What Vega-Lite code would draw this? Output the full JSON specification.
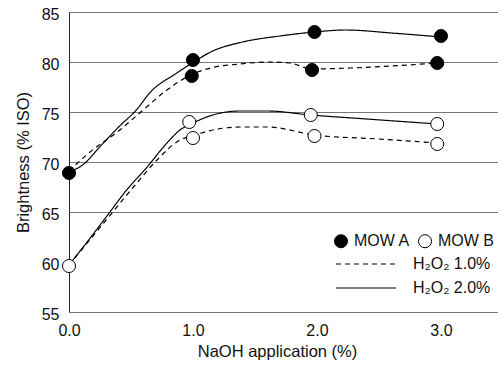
{
  "$schema": "https://vega.github.io/schema/vega-lite/v6.json",
  "width": 429,
  "height": 300,
  "autosize": {"type": "none"},
  "padding": {"left": 69, "top": 12, "right": 0, "bottom": 54},
  "config": {
    "font": "Liberation Sans",
    "view": {"stroke": null},
    "axis": {
      "labelFont": "Liberation Sans",
      "titleFont": "Liberation Sans",
      "labelFontSize": 16,
      "titleFontSize": 16.5,
      "titleFontWeight": "normal",
      "labelColor": "#111",
      "titleColor": "#111",
      "ticks": false
    },
    "legend": {"labelFont": "Liberation Sans", "labelFontSize": 16, "labelColor": "#111", "padding": 0}
  },
  "datasets": {
    "points": [
      {"MOW": "MOW A", "naoh": 0.0, "brightness": 68.9},
      {"MOW": "MOW A", "naoh": 1.0, "brightness": 80.2},
      {"MOW": "MOW A", "naoh": 0.99, "brightness": 78.6},
      {"MOW": "MOW A", "naoh": 1.98, "brightness": 83.0},
      {"MOW": "MOW A", "naoh": 1.96, "brightness": 79.2},
      {"MOW": "MOW A", "naoh": 3.0, "brightness": 82.6},
      {"MOW": "MOW A", "naoh": 2.97, "brightness": 79.9},
      {"MOW": "MOW B", "naoh": 0.0, "brightness": 59.6},
      {"MOW": "MOW B", "naoh": 0.97, "brightness": 74.0},
      {"MOW": "MOW B", "naoh": 1.0, "brightness": 72.4},
      {"MOW": "MOW B", "naoh": 1.95, "brightness": 74.7},
      {"MOW": "MOW B", "naoh": 1.98, "brightness": 72.6},
      {"MOW": "MOW B", "naoh": 2.97, "brightness": 73.8},
      {"MOW": "MOW B", "naoh": 2.97, "brightness": 71.8}
    ],
    "curves": [
      {"MOW": "MOW A", "H2O2": "H₂O₂ 2.0%", "naoh": 0.0, "brightness": 69.0},
      {"MOW": "MOW A", "H2O2": "H₂O₂ 2.0%", "naoh": 0.12, "brightness": 69.8},
      {"MOW": "MOW A", "H2O2": "H₂O₂ 2.0%", "naoh": 0.24, "brightness": 71.4},
      {"MOW": "MOW A", "H2O2": "H₂O₂ 2.0%", "naoh": 0.40, "brightness": 73.5},
      {"MOW": "MOW A", "H2O2": "H₂O₂ 2.0%", "naoh": 0.55, "brightness": 75.3},
      {"MOW": "MOW A", "H2O2": "H₂O₂ 2.0%", "naoh": 0.65, "brightness": 76.9},
      {"MOW": "MOW A", "H2O2": "H₂O₂ 2.0%", "naoh": 0.87, "brightness": 78.9},
      {"MOW": "MOW A", "H2O2": "H₂O₂ 2.0%", "naoh": 0.98, "brightness": 79.8},
      {"MOW": "MOW A", "H2O2": "H₂O₂ 2.0%", "naoh": 1.16, "brightness": 81.1},
      {"MOW": "MOW A", "H2O2": "H₂O₂ 2.0%", "naoh": 1.40, "brightness": 82.0},
      {"MOW": "MOW A", "H2O2": "H₂O₂ 2.0%", "naoh": 1.70, "brightness": 82.6},
      {"MOW": "MOW A", "H2O2": "H₂O₂ 2.0%", "naoh": 1.98, "brightness": 83.0},
      {"MOW": "MOW A", "H2O2": "H₂O₂ 2.0%", "naoh": 2.23, "brightness": 83.2},
      {"MOW": "MOW A", "H2O2": "H₂O₂ 2.0%", "naoh": 2.60, "brightness": 82.9},
      {"MOW": "MOW A", "H2O2": "H₂O₂ 2.0%", "naoh": 3.0, "brightness": 82.5},
      {"MOW": "MOW A", "H2O2": "H₂O₂ 1.0%", "naoh": 0.0, "brightness": 69.1},
      {"MOW": "MOW A", "H2O2": "H₂O₂ 1.0%", "naoh": 0.17, "brightness": 71.0},
      {"MOW": "MOW A", "H2O2": "H₂O₂ 1.0%", "naoh": 0.41, "brightness": 73.2},
      {"MOW": "MOW A", "H2O2": "H₂O₂ 1.0%", "naoh": 0.57, "brightness": 74.9},
      {"MOW": "MOW A", "H2O2": "H₂O₂ 1.0%", "naoh": 0.79, "brightness": 77.2},
      {"MOW": "MOW A", "H2O2": "H₂O₂ 1.0%", "naoh": 0.95, "brightness": 78.5},
      {"MOW": "MOW A", "H2O2": "H₂O₂ 1.0%", "naoh": 1.14, "brightness": 79.4},
      {"MOW": "MOW A", "H2O2": "H₂O₂ 1.0%", "naoh": 1.38, "brightness": 79.8},
      {"MOW": "MOW A", "H2O2": "H₂O₂ 1.0%", "naoh": 1.60, "brightness": 80.0},
      {"MOW": "MOW A", "H2O2": "H₂O₂ 1.0%", "naoh": 1.78, "brightness": 79.9},
      {"MOW": "MOW A", "H2O2": "H₂O₂ 1.0%", "naoh": 1.96, "brightness": 79.3},
      {"MOW": "MOW A", "H2O2": "H₂O₂ 1.0%", "naoh": 2.27, "brightness": 79.4},
      {"MOW": "MOW A", "H2O2": "H₂O₂ 1.0%", "naoh": 2.60, "brightness": 79.6},
      {"MOW": "MOW A", "H2O2": "H₂O₂ 1.0%", "naoh": 2.97, "brightness": 79.9},
      {"MOW": "MOW B", "H2O2": "H₂O₂ 2.0%", "naoh": 0.0, "brightness": 59.7},
      {"MOW": "MOW B", "H2O2": "H₂O₂ 2.0%", "naoh": 0.14, "brightness": 61.9},
      {"MOW": "MOW B", "H2O2": "H₂O₂ 2.0%", "naoh": 0.30, "brightness": 64.5},
      {"MOW": "MOW B", "H2O2": "H₂O₂ 2.0%", "naoh": 0.465, "brightness": 67.2},
      {"MOW": "MOW B", "H2O2": "H₂O₂ 2.0%", "naoh": 0.63, "brightness": 69.5},
      {"MOW": "MOW B", "H2O2": "H₂O₂ 2.0%", "naoh": 0.79, "brightness": 71.9},
      {"MOW": "MOW B", "H2O2": "H₂O₂ 2.0%", "naoh": 0.895, "brightness": 73.2},
      {"MOW": "MOW B", "H2O2": "H₂O₂ 2.0%", "naoh": 1.0, "brightness": 73.9},
      {"MOW": "MOW B", "H2O2": "H₂O₂ 2.0%", "naoh": 1.16, "brightness": 74.7},
      {"MOW": "MOW B", "H2O2": "H₂O₂ 2.0%", "naoh": 1.38, "brightness": 75.1},
      {"MOW": "MOW B", "H2O2": "H₂O₂ 2.0%", "naoh": 1.60, "brightness": 75.1},
      {"MOW": "MOW B", "H2O2": "H₂O₂ 2.0%", "naoh": 1.95, "brightness": 74.7},
      {"MOW": "MOW B", "H2O2": "H₂O₂ 2.0%", "naoh": 2.40, "brightness": 74.3},
      {"MOW": "MOW B", "H2O2": "H₂O₂ 2.0%", "naoh": 2.97, "brightness": 73.8},
      {"MOW": "MOW B", "H2O2": "H₂O₂ 1.0%", "naoh": 0.0, "brightness": 59.7},
      {"MOW": "MOW B", "H2O2": "H₂O₂ 1.0%", "naoh": 0.30, "brightness": 64.2},
      {"MOW": "MOW B", "H2O2": "H₂O₂ 1.0%", "naoh": 0.52, "brightness": 67.5},
      {"MOW": "MOW B", "H2O2": "H₂O₂ 1.0%", "naoh": 0.71, "brightness": 70.2},
      {"MOW": "MOW B", "H2O2": "H₂O₂ 1.0%", "naoh": 0.895, "brightness": 72.2},
      {"MOW": "MOW B", "H2O2": "H₂O₂ 1.0%", "naoh": 0.99, "brightness": 72.6},
      {"MOW": "MOW B", "H2O2": "H₂O₂ 1.0%", "naoh": 1.16, "brightness": 73.2},
      {"MOW": "MOW B", "H2O2": "H₂O₂ 1.0%", "naoh": 1.38, "brightness": 73.5},
      {"MOW": "MOW B", "H2O2": "H₂O₂ 1.0%", "naoh": 1.60, "brightness": 73.5},
      {"MOW": "MOW B", "H2O2": "H₂O₂ 1.0%", "naoh": 1.98, "brightness": 72.7},
      {"MOW": "MOW B", "H2O2": "H₂O₂ 1.0%", "naoh": 2.50, "brightness": 72.3},
      {"MOW": "MOW B", "H2O2": "H₂O₂ 1.0%", "naoh": 2.97, "brightness": 71.9}
    ]
  },
  "layer": [
    {
      "mark": {"type": "rule", "color": "#777", "strokeWidth": 1},
      "encoding": {
        "y": {"datum": 60, "type": "quantitative"},
        "x": {"datum": 0, "type": "quantitative"},
        "x2": {"datum": 2}
      }
    },
    {
      "data": {"name": "curves"},
      "mark": {"type": "line", "interpolate": "monotone", "color": "black", "strokeWidth": 1.2},
      "encoding": {
        "x": {
          "field": "naoh", "type": "quantitative",
          "scale": {"domain": [0, 3.46], "nice": false, "zero": false},
          "axis": {
            "title": "NaOH application (%)",
            "values": [0, 1, 2, 3],
            "format": ".1f",
            "grid": false,
            "labelFlush": false,
            "domainColor": "#777",
            "labelPadding": 10,
            "titlePadding": 5,
            "titleX": 208
          }
        },
        "y": {
          "field": "brightness", "type": "quantitative",
          "scale": {"domain": [55, 85], "nice": false, "zero": false},
          "axis": {
            "title": "Brightness (% ISO)",
            "values": [55, 60, 65, 70, 75, 80, 85],
            "grid": true,
            "gridColor": "#777",
            "gridOpacity": {"condition": {"test": "datum.value <= 60", "value": 0}, "value": 1},
            "domainColor": "#222",
            "labelPadding": 10,
            "labelOffset": 2,
            "labelFlush": false,
            "titlePadding": 10
          }
        },
        "detail": {"field": "MOW"},
        "strokeDash": {
          "field": "H2O2", "type": "nominal",
          "scale": {"domain": ["H₂O₂ 1.0%", "H₂O₂ 2.0%"], "range": [[5, 4], [1, 0]]},
          "legend": {
            "orient": "none", "legendX": 264, "legendY": 244,
            "title": null, "symbolType": "M-1,0H11", "symbolSize": 100,
            "symbolStrokeWidth": 1.2, "symbolStrokeColor": "black",
            "labelOffset": 64, "rowPadding": 8
          }
        }
      }
    },
    {
      "data": {"name": "points"},
      "mark": {"type": "point", "shape": "circle", "filled": true, "stroke": "black", "strokeWidth": 1, "size": 170, "opacity": 1},
      "encoding": {
        "x": {"field": "naoh", "type": "quantitative"},
        "y": {"field": "brightness", "type": "quantitative"},
        "fill": {
          "field": "MOW", "type": "nominal",
          "scale": {"domain": ["MOW A", "MOW B"], "range": ["black", "white"]},
          "legend": {
            "orient": "none", "legendX": 264, "legendY": 221,
            "direction": "horizontal", "title": null, "symbolType": "circle",
            "symbolSize": 170, "symbolStrokeColor": "black", "symbolStrokeWidth": 1,
            "symbolOpacity": 1, "columnPadding": 6, "labelOffset": 5
          }
        }
      }
    }
  ]
}
